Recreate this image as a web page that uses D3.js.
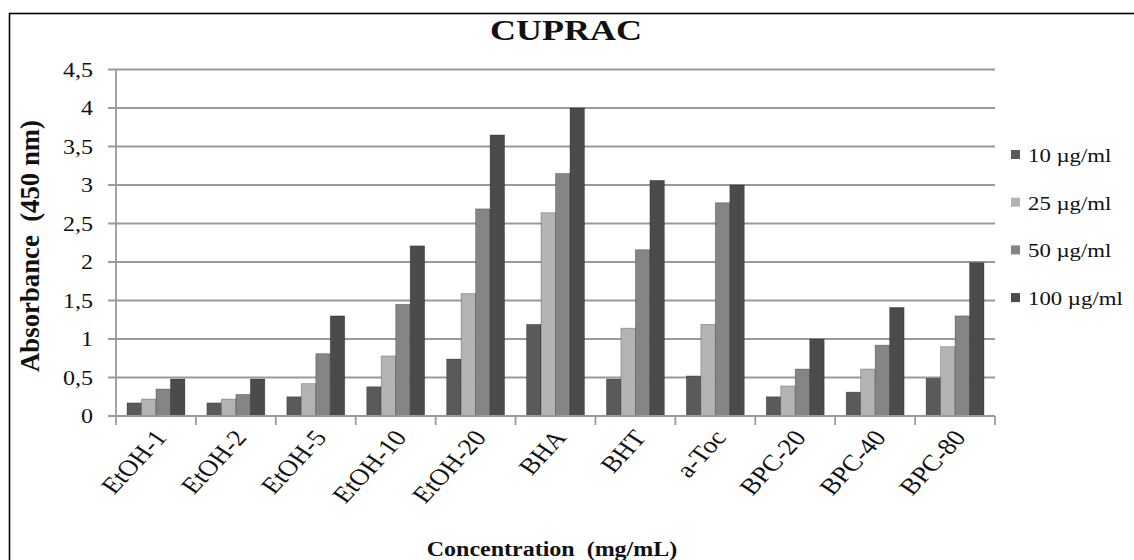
<!DOCTYPE html>
<html>
<head>
<meta charset="utf-8">
<script src="https://cdn.jsdelivr.net/npm/d3@7"></script>
<style>
  html, body { margin: 0; padding: 0; background: #fff; }
  svg { display: block; }
  text { font-family: "Liberation Serif", "Times New Roman", serif; fill: #111; }
</style>
</head>
<body>
<svg id="chart" width="1134" height="560"></svg>
<script>
// ---- data ----
const categories = ["EtOH-1", "EtOH-2", "EtOH-5", "EtOH-10", "EtOH-20", "BHA", "BHT", "a-Toc", "BPC-20", "BPC-40", "BPC-80"];
const seriesNames = ["10 µg/ml", "25 µg/ml", "50 µg/ml", "100 µg/ml"];
const s10  = [0.17, 0.17, 0.25, 0.38, 0.74, 1.19, 0.48, 0.52, 0.25, 0.31, 0.49];
const s25  = [0.22, 0.22, 0.42, 0.78, 1.59, 2.64, 1.14, 1.19, 0.39, 0.61, 0.90];
const s50  = [0.35, 0.28, 0.81, 1.45, 2.69, 3.15, 2.16, 2.77, 0.61, 0.92, 1.30];
const s100 = [0.48, 0.48, 1.30, 2.21, 3.65, 4.00, 3.06, 3.00, 1.00, 1.41, 1.99];
const yTicks = [0, 0.5, 1, 1.5, 2, 2.5, 3, 3.5, 4, 4.5];
const yTickLabels = ["0", "0,5", "1", "1,5", "2", "2,5", "3", "3,5", "4", "4,5"];
const colors = ["#5a5a5a", "#b3b3b3", "#858585", "#4b4b4b"];

const seriesValues = [s10, s25, s50, s100];
const SX = 1.2; // horizontal stretch of the original picture

const svg = d3.select("#chart");
const plot = { left: 116, right: 995, top: 69.5, bottom: 416 };

// outer frame
svg.append("rect").attr("x", 9.5).attr("y", 13.5).attr("width", 1140).attr("height", 580)
  .attr("fill", "none").attr("stroke", "#000").attr("stroke-width", 1.6);

const x0 = d3.scaleBand().domain(categories).range([plot.left, plot.right]).paddingInner(0).paddingOuter(0);
const innerPad = 0.275; // gap share of each category
const x1 = d3.scaleBand().domain(d3.range(4))
  .range([x0.bandwidth() * innerPad / 2, x0.bandwidth() * (1 - innerPad / 2)]).padding(0);
const y = d3.scaleLinear().domain([0, 4.5]).range([plot.bottom, plot.top]);

// grid lines with tick stubs
svg.append("g").selectAll("line").data(yTicks.slice(1)).join("line")
  .attr("x1", plot.left - 8).attr("x2", plot.right)
  .attr("y1", d => y(d)).attr("y2", d => y(d))
  .attr("stroke", "#9a9a9a").attr("stroke-width", 1.8);

// y axis line
svg.append("line").attr("x1", plot.left).attr("x2", plot.left)
  .attr("y1", y(4.5)).attr("y2", y(0)).attr("stroke", "#9a9a9a").attr("stroke-width", 1.8);

// y tick labels
svg.append("g").selectAll("text").data(yTicks).join("text")
  .attr("text-anchor", "end")
  .attr("font-size", 20)
  .attr("transform", d => `translate(93,${y(d) + 7}) scale(${SX},1)`)
  .text((d, i) => yTickLabels[i]);

// bars
const groups = svg.append("g").selectAll("g").data(categories).join("g")
  .attr("transform", d => `translate(${x0(d)},0)`);
groups.selectAll("rect").data((c, ci) => seriesValues.map((s, si) => ({ si, v: s[ci] }))).join("rect")
  .attr("x", d => x1(d.si))
  .attr("width", x1.bandwidth())
  .attr("y", d => y(d.v))
  .attr("height", d => y(0) - y(d.v))
  .attr("fill", d => colors[d.si])
  .attr("stroke", "rgba(0,0,0,0.3)")
  .attr("stroke-width", 0.8);

// x axis line and ticks
svg.append("line").attr("x1", plot.left - 8).attr("x2", plot.right)
  .attr("y1", y(0)).attr("y2", y(0)).attr("stroke", "#9a9a9a").attr("stroke-width", 1.8);
const tickXs = categories.map(c => x0(c)).concat([plot.right]);
svg.append("g").selectAll("line").data(tickXs).join("line")
  .attr("x1", d => d).attr("x2", d => d)
  .attr("y1", y(0)).attr("y2", y(0) + 9)
  .attr("stroke", "#9a9a9a").attr("stroke-width", 1.8);

// x category labels (rotated, then stretched)
svg.append("g").selectAll("text").data(categories).join("text")
  .attr("text-anchor", "end")
  .attr("font-size", 23)
  .attr("transform", d => `translate(${x0(d) + x0.bandwidth() / 2 + 12},${y(0) + 22}) scale(${SX},1) rotate(-52)`)
  .text(d => d);

// title
svg.append("text").attr("text-anchor", "middle").attr("font-size", 30).attr("font-weight", "bold")
  .attr("transform", `translate(566,40) scale(${SX},1)`).text("CUPRAC");

// y title
svg.append("text").attr("text-anchor", "middle").attr("font-size", 22).attr("font-weight", "bold")
  .attr("transform", `translate(39,246) scale(${SX},1) rotate(-90)`)
  .attr("textLength", 252).attr("lengthAdjust", "spacingAndGlyphs")
  .attr("xml:space", "preserve")
  .text("Absorbance  (450 nm)");

// x title
svg.append("text").attr("text-anchor", "middle").attr("font-size", 20).attr("font-weight", "bold")
  .attr("transform", `translate(552,556) scale(${SX},1)`)
  .attr("xml:space", "preserve")
  .text("Concentration  (mg/mL)");

// legend
const leg = svg.append("g").selectAll("g").data(seriesNames).join("g")
  .attr("transform", (d, i) => `translate(1011,${155 + i * 47.7})`);
leg.append("rect").attr("x", 0).attr("y", -5).attr("width", 9).attr("height", 9)
  .attr("fill", (d, i) => colors[i]);
leg.append("text").attr("font-size", 19)
  .attr("transform", `translate(17,7) scale(${SX},1)`)
  .text(d => d);
</script>
</body>
</html>
